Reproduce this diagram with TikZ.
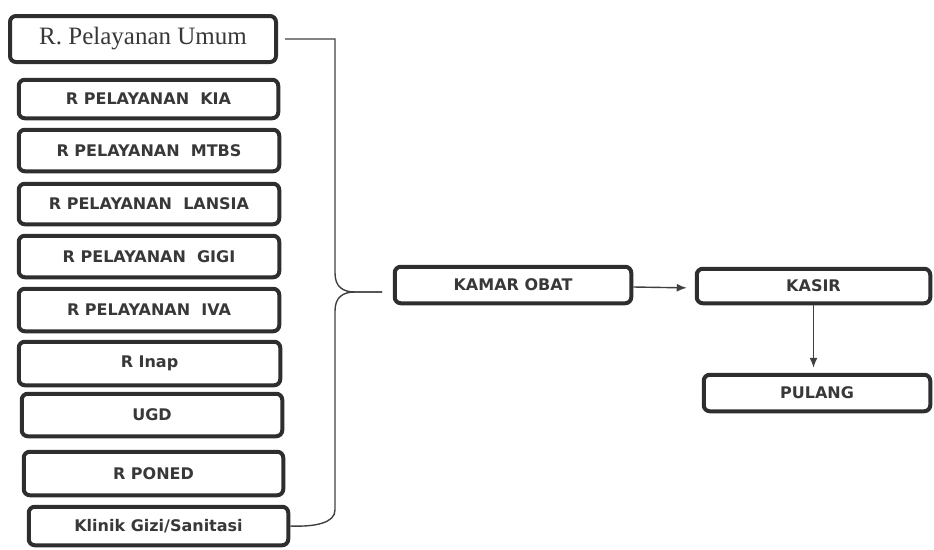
\documentclass[tikz,border=0pt]{standalone}
\usepackage{fontspec}
\usepackage{tikz}
\usetikzlibrary{arrows.meta}
\newfontfamily\roomfont{DejaVu Sans}
\newfontfamily\umumfont{Liberation Serif}
\def\roomsize{\roomfont\bfseries\fontsize{16}{18}\selectfont}

\begin{document}
\begin{tikzpicture}[x=1pt, y=-1pt,
		room/.style={draw=black!82, line width=4pt, rounded corners=6pt, text=black!78, font=\roomsize, inner sep=0pt},
		link/.style={draw=black!75, line width=1.4pt},
		flow/.style={link, -{Latex[length=10pt, width=8pt]}}]
			%%%%% START %%%%%
			\useasboundingbox (0, 0) rectangle (934, 549);
			
			\node[room, minimum width=266pt, minimum height=46pt, font=\umumfont\fontsize{25}{28}\selectfont] (umum) at (143, 39) {R. Pelayanan Umum};
			\node[room, minimum width=259.5pt, minimum height=38.5pt] (kia) at (148.5, 99) {R PELAYANAN~ KIA};
			\node[room, minimum width=260.5pt, minimum height=41.5pt] (mtbs) at (149, 150.5) {R PELAYANAN~ MTBS};
			\node[room, minimum width=260.5pt, minimum height=40.5pt] (lansia) at (149, 204) {R PELAYANAN~ LANSIA};
			\node[room, minimum width=260.5pt, minimum height=41.5pt] (gigi) at (149, 256.5) {R PELAYANAN~ GIGI};
			\node[room, minimum width=260.5pt, minimum height=42.5pt] (iva) at (149, 310) {R PELAYANAN~ IVA};
			\node[room, minimum width=261.5pt, minimum height=43.5pt] (inap) at (149.5, 363.5) {R Inap};
			\node[room, minimum width=260.5pt, minimum height=42.5pt] (ugd) at (152, 415) {UGD};
			\node[room, minimum width=259.5pt, minimum height=43.5pt] (poned) at (153.5, 473.5) {R PONED};
			\node[room, minimum width=259.5pt, minimum height=38.5pt] (klinik) at (158.5, 526) {Klinik Gizi/Sanitasi};
			
			\node[room, minimum width=236.5pt, minimum height=36.5pt] (kamar) at (513, 285) {KAMAR OBAT};
			\node[room, minimum width=233.5pt, minimum height=34.5pt] (kasir) at (813.5, 286) {KASIR};
			\node[room, minimum width=226.5pt, minimum height=36.5pt] (pulang) at (817, 393) {PULANG};
			
			% brace gathering the rooms
			\coordinate (tip) at (382, 292);
			\draw[link] ([xshift=7pt]umum.east) -- (335, 39) -- (335, 273) .. controls (335, 287) and (343, 292) .. (355, 292) -- (tip);
			\draw[link] (tip) -- (355, 292) .. controls (343, 292) and (335, 297) .. (335, 311) -- (335, 510) .. controls (335, 523) and (315, 527) .. (klinik.east);
			
			\draw[flow, shorten >=8pt] ([yshift=-2pt]kamar.east) -- ([yshift=-2pt]kasir.west);
			\draw[flow, shorten >=5pt] (kasir.south) -- (kasir.south |- pulang.north);
			
			%%%%% END %%%%%
		\end{tikzpicture}
\end{document}
